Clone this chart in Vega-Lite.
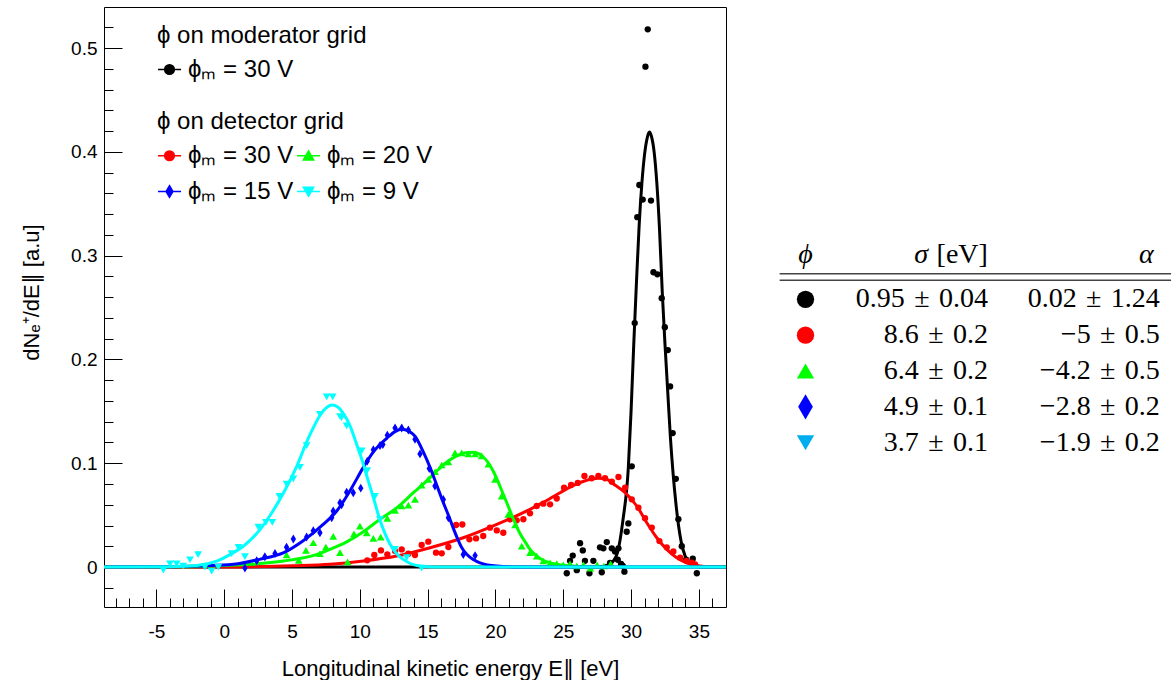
{
"$schema": "https://vega.github.io/schema/vega-lite/v6.json",
"background": "white",
"padding": {"left": 20, "top": 6, "right": 0, "bottom": 0},
"spacing": 45,
"config": {
  "font": "Liberation Sans",
  "view": {"stroke": "#000000", "strokeWidth": 1},
  "axis": {"grid": false, "domain": false, "labelColor": "#000000", "titleColor": "#000000", "tickColor": "#000000", "tickWidth": 1},
  "legend": {"labelColor": "#000000", "titleColor": "#000000", "titleLimit": 400, "labelLimit": 300}
},
"hconcat": [
{
  "width": 622, "height": 600,
  "resolve": {"axis": {"x": "independent", "y": "independent"}, "scale": {"fill": "independent", "stroke": "independent", "shape": "independent"}},
  "layer": [
    {"data": {"name": "black_pts"}, "mark": {"type": "point", "filled": true, "shape": "circle", "size": 40, "color": "#000000", "opacity": 1},
     "encoding": {
       "x": {"field": "e", "type": "quantitative", "scale": {"domain": [-8.86, 37.0], "nice": false, "zero": false},
             "axis": {"orient": "bottom", "values": [-5,0,5,10,15,20,25,30,35], "ticks": false, "domain": false, "labelFontSize": 19, "labelPadding": 15, "labelExpr": "datum.value < 0 ? '-' + (-datum.value) : datum.label", "title": "Longitudinal kinetic energy E∥ [eV]", "titleFontSize": 22, "titleFontWeight": "normal", "titlePadding": 17, "titleX": 346}},
       "y": {"field": "v", "type": "quantitative", "scale": {"domain": [-0.0385, 0.5395], "nice": false, "zero": false},
             "axis": {"orient": "left", "values": [0,0.1,0.2,0.3,0.4,0.5], "ticks": false, "domain": false, "labelFontSize": 19, "labelPadding": 7, "labelExpr": "datum.value == 0 ? '0' : format(datum.value, '.1f')", "title": "dNₑ⁺/dE∥ [a.u]", "titleFontSize": 22, "titleFontWeight": "normal", "titlePadding": 27, "titleY": 285}}
     }},
    {"data": {"name": "black_fit"}, "mark": {"type": "line", "color": "#000000", "strokeWidth": 3, "interpolate": "monotone"},
     "encoding": {
       "x": {"field": "e", "type": "quantitative", "scale": {"domain": [-8.86, 37.0], "nice": false, "zero": false},
             "axis": {"orient": "bottom", "values": [-5,0,5,10,15,20,25,30,35], "tickSize": -18, "labels": false, "domain": false, "title": null}},
       "y": {"field": "v", "type": "quantitative", "scale": {"domain": [-0.0385, 0.5395], "nice": false, "zero": false},
             "axis": {"orient": "left", "values": [0,0.1,0.2,0.3,0.4,0.5], "tickSize": -18, "labels": false, "domain": false, "title": null}}
     }},
    {"data": {"name": "red_fit"}, "mark": {"type": "line", "color": "#ff0000", "strokeWidth": 3, "interpolate": "monotone"},
     "encoding": {
       "x": {"field": "e", "type": "quantitative", "scale": {"domain": [-8.86, 37.0], "nice": false, "zero": false},
             "axis": {"orient": "bottom", "values": [-8,-7,-6,-5,-4,-3,-2,-1,0,1,2,3,4,5,6,7,8,9,10,11,12,13,14,15,16,17,18,19,20,21,22,23,24,25,26,27,28,29,30,31,32,33,34,35,36], "tickSize": -9, "labels": false, "domain": false, "title": null}},
       "y": {"field": "v", "type": "quantitative", "scale": {"domain": [-0.0385, 0.5395], "nice": false, "zero": false},
             "axis": {"orient": "left", "values": [-0.02,0,0.02,0.04,0.06,0.08,0.1,0.12,0.14,0.16,0.18,0.2,0.22,0.24,0.26,0.28,0.3,0.32,0.34,0.36,0.38,0.4,0.42,0.44,0.46,0.48,0.5,0.52], "tickSize": -9, "labels": false, "domain": false, "title": null}}
     }},
    {"data": {"name": "red_pts"}, "mark": {"type": "point", "filled": true, "shape": "circle", "size": 40, "color": "#ff0000", "opacity": 1},
     "encoding": {"x": {"field": "e", "type": "quantitative", "scale": {"domain": [-8.86, 37.0], "nice": false, "zero": false}, "axis": null},
                  "y": {"field": "v", "type": "quantitative", "scale": {"domain": [-0.0385, 0.5395], "nice": false, "zero": false}, "axis": null}}},
    {"data": {"name": "green_fit"}, "mark": {"type": "line", "color": "#00ff00", "strokeWidth": 3, "interpolate": "monotone"},
     "encoding": {"x": {"field": "e", "type": "quantitative", "scale": {"domain": [-8.86, 37.0], "nice": false, "zero": false}, "axis": null},
                  "y": {"field": "v", "type": "quantitative", "scale": {"domain": [-0.0385, 0.5395], "nice": false, "zero": false}, "axis": null}}},
    {"data": {"name": "green_pts"}, "mark": {"type": "point", "filled": true, "shape": "triangle-up", "size": 60, "color": "#00ff00", "opacity": 1},
     "encoding": {"x": {"field": "e", "type": "quantitative", "scale": {"domain": [-8.86, 37.0], "nice": false, "zero": false}, "axis": null},
                  "y": {"field": "v", "type": "quantitative", "scale": {"domain": [-0.0385, 0.5395], "nice": false, "zero": false}, "axis": null}}},
    {"data": {"name": "blue_fit"}, "mark": {"type": "line", "color": "#0000ff", "strokeWidth": 3, "interpolate": "monotone"},
     "encoding": {"x": {"field": "e", "type": "quantitative", "scale": {"domain": [-8.86, 37.0], "nice": false, "zero": false}, "axis": null},
                  "y": {"field": "v", "type": "quantitative", "scale": {"domain": [-0.0385, 0.5395], "nice": false, "zero": false}, "axis": null}}},
    {"data": {"name": "blue_pts"}, "mark": {"type": "point", "filled": true, "shape": "M0,-1L0.6,0L0,1L-0.6,0Z", "size": 80, "color": "#0000ff", "opacity": 1},
     "encoding": {"x": {"field": "e", "type": "quantitative", "scale": {"domain": [-8.86, 37.0], "nice": false, "zero": false}, "axis": null},
                  "y": {"field": "v", "type": "quantitative", "scale": {"domain": [-0.0385, 0.5395], "nice": false, "zero": false}, "axis": null}}},
    {"data": {"name": "cyan_fit"}, "mark": {"type": "line", "color": "#00ffff", "strokeWidth": 3, "interpolate": "monotone"},
     "encoding": {"x": {"field": "e", "type": "quantitative", "scale": {"domain": [-8.86, 37.0], "nice": false, "zero": false}, "axis": null},
                  "y": {"field": "v", "type": "quantitative", "scale": {"domain": [-0.0385, 0.5395], "nice": false, "zero": false}, "axis": null}}},
    {"data": {"name": "cyan_pts"}, "mark": {"type": "point", "filled": true, "shape": "triangle-down", "size": 60, "color": "#00ffff", "opacity": 1},
     "encoding": {"x": {"field": "e", "type": "quantitative", "scale": {"domain": [-8.86, 37.0], "nice": false, "zero": false}, "axis": null},
                  "y": {"field": "v", "type": "quantitative", "scale": {"domain": [-0.0385, 0.5395], "nice": false, "zero": false}, "axis": null}}},
    {"data": {"name": "leg_mod"}, "transform": [{"filter": "false"}],
     "mark": {"type": "point", "filled": true, "opacity": 1, "strokeWidth": 1.5},
     "encoding": {
       "fill": {"field": "lbl", "type": "nominal", "scale": {"domain": ["ϕₘ = 30 V"], "range": ["#000000"]},
                "legend": {"title": "ϕ on moderator grid", "orient": "none", "legendX": 53, "legendY": 17, "symbolSize": 529, "symbolStrokeWidth": 1.5, "labelFontSize": 24, "titleFontSize": 24, "titleFontWeight": "normal", "titlePadding": 9, "labelOffset": 6, "padding": 0, "rowPadding": 11}},
       "stroke": {"field": "lbl", "type": "nominal", "scale": {"domain": ["ϕₘ = 30 V"], "range": ["#000000"]},
                "legend": {"title": "ϕ on moderator grid", "orient": "none", "legendX": 53, "legendY": 17, "symbolSize": 529, "symbolStrokeWidth": 1.5, "labelFontSize": 24, "titleFontSize": 24, "titleFontWeight": "normal", "titlePadding": 9, "labelOffset": 6, "padding": 0, "rowPadding": 11}},
       "shape": {"field": "lbl", "type": "nominal", "scale": {"domain": ["ϕₘ = 30 V"], "range": ["M-1,0L1,0M-0.42,0A0.42,0.42,0,1,0,0.42,0A0.42,0.42,0,1,0,-0.42,0Z"]},
                "legend": {"title": "ϕ on moderator grid", "orient": "none", "legendX": 53, "legendY": 17, "symbolSize": 529, "symbolStrokeWidth": 1.5, "labelFontSize": 24, "titleFontSize": 24, "titleFontWeight": "normal", "titlePadding": 9, "labelOffset": 6, "padding": 0, "rowPadding": 11}}
     }},
    {"data": {"name": "leg_det"}, "transform": [{"filter": "false"}],
     "mark": {"type": "point", "filled": true, "opacity": 1, "strokeWidth": 1.5},
     "encoding": {
       "fill": {"field": "lbl", "type": "nominal", "scale": {"domain": ["ϕₘ = 30 V", "ϕₘ = 15 V", "ϕₘ = 20 V", "ϕₘ = 9 V"], "range": ["#ff0000", "#0000ff", "#00ff00", "#00ffff"]},
                "legend": {"title": "ϕ on detector grid", "orient": "none", "legendX": 53, "legendY": 103, "columns": 2, "columnPadding": 0, "symbolSize": 529, "symbolStrokeWidth": 1.5, "labelFontSize": 24, "titleFontSize": 24, "titleFontWeight": "normal", "titlePadding": 9, "labelOffset": 6, "padding": 0, "rowPadding": 11}},
       "stroke": {"field": "lbl", "type": "nominal", "scale": {"domain": ["ϕₘ = 30 V", "ϕₘ = 15 V", "ϕₘ = 20 V", "ϕₘ = 9 V"], "range": ["#ff0000", "#0000ff", "#00ff00", "#00ffff"]},
                "legend": {"title": "ϕ on detector grid", "orient": "none", "legendX": 53, "legendY": 103, "columns": 2, "columnPadding": 0, "symbolSize": 529, "symbolStrokeWidth": 1.5, "labelFontSize": 24, "titleFontSize": 24, "titleFontWeight": "normal", "titlePadding": 9, "labelOffset": 6, "padding": 0, "rowPadding": 11}},
       "shape": {"field": "lbl", "type": "nominal", "scale": {"domain": ["ϕₘ = 30 V", "ϕₘ = 15 V", "ϕₘ = 20 V", "ϕₘ = 9 V"], "range": ["M-1,0L1,0M-0.42,0A0.42,0.42,0,1,0,0.42,0A0.42,0.42,0,1,0,-0.42,0Z", "M-1,0L1,0M0,-0.5L0.3,0L0,0.5L-0.3,0Z", "M-1,0L1,0M0,-0.42L0.45,0.36L-0.45,0.36Z", "M-1,0L1,0M0,0.42L0.45,-0.36L-0.45,-0.36Z"]},
                "legend": {"title": "ϕ on detector grid", "orient": "none", "legendX": 53, "legendY": 103, "columns": 2, "columnPadding": 0, "symbolSize": 529, "symbolStrokeWidth": 1.5, "labelFontSize": 24, "titleFontSize": 24, "titleFontWeight": "normal", "titlePadding": 9, "labelOffset": 6, "padding": 0, "rowPadding": 11}}
     }}
  ]
},
{
  "width": 394, "height": 600,
  "view": {"stroke": null},
  "layer": [
    {"data": {"name": "tbl_hdr"}, "mark": {"type": "rule", "color": "#444444", "strokeWidth": 1.5},
     "encoding": {"x": {"datum": -0.146, "type": "quantitative", "scale": {"domain": [-0.1553, 2.0694], "nice": false, "zero": false}, "axis": null},
                  "x2": {"datum": 2.064},
                  "y": {"datum": 0.29, "type": "quantitative", "scale": {"domain": [-7.153, 9.583], "nice": false, "zero": false, "reverse": true}, "axis": null}}},
    {"data": {"name": "tbl_hdr"}, "mark": {"type": "rule", "color": "#444444", "strokeWidth": 1.5},
     "encoding": {"x": {"datum": -0.146, "type": "quantitative", "scale": {"domain": [-0.1553, 2.0694], "nice": false, "zero": false}, "axis": null},
                  "x2": {"datum": 2.064},
                  "y": {"datum": 0.47, "type": "quantitative", "scale": {"domain": [-7.153, 9.583], "nice": false, "zero": false, "reverse": true}, "axis": null}}},
    {"data": {"name": "tbl_hdr"}, "mark": {"type": "text", "font": "Liberation Serif", "fontSize": 28, "fontStyle": "italic", "align": "center", "baseline": "middle", "color": "#000000"},
     "encoding": {"text": {"field": "phi"},
                  "x": {"datum": 0, "type": "quantitative", "scale": {"domain": [-0.1553, 2.0694], "nice": false, "zero": false}, "axis": null},
                  "y": {"datum": -0.24, "type": "quantitative", "scale": {"domain": [-7.153, 9.583], "nice": false, "zero": false, "reverse": true}, "axis": null}}},
    {"data": {"name": "tbl_hdr"}, "mark": {"type": "text", "font": "Liberation Serif", "fontSize": 28, "fontStyle": "italic", "align": "right", "baseline": "middle", "color": "#000000"},
     "encoding": {"text": {"field": "sig"},
                  "x": {"datum": 0.692, "type": "quantitative", "scale": {"domain": [-0.1553, 2.0694], "nice": false, "zero": false}, "axis": null},
                  "y": {"datum": -0.24, "type": "quantitative", "scale": {"domain": [-7.153, 9.583], "nice": false, "zero": false, "reverse": true}, "axis": null}}},
    {"data": {"name": "tbl_hdr"}, "mark": {"type": "text", "font": "Liberation Serif", "fontSize": 28, "align": "right", "baseline": "middle", "color": "#000000"},
     "encoding": {"text": {"field": "unit"},
                  "x": {"datum": 1.03, "type": "quantitative", "scale": {"domain": [-0.1553, 2.0694], "nice": false, "zero": false}, "axis": null},
                  "y": {"datum": -0.24, "type": "quantitative", "scale": {"domain": [-7.153, 9.583], "nice": false, "zero": false, "reverse": true}, "axis": null}}},
    {"data": {"name": "tbl_hdr"}, "mark": {"type": "text", "font": "Liberation Serif", "fontSize": 28, "fontStyle": "italic", "align": "right", "baseline": "middle", "color": "#000000"},
     "encoding": {"text": {"field": "alp"},
                  "x": {"datum": 1.966, "type": "quantitative", "scale": {"domain": [-0.1553, 2.0694], "nice": false, "zero": false}, "axis": null},
                  "y": {"datum": -0.24, "type": "quantitative", "scale": {"domain": [-7.153, 9.583], "nice": false, "zero": false, "reverse": true}, "axis": null}}},
    {"data": {"name": "tbl"}, "mark": {"type": "point", "filled": true, "opacity": 1, "size": 300},
     "encoding": {"x": {"datum": 0, "type": "quantitative", "scale": {"domain": [-0.1553, 2.0694], "nice": false, "zero": false}, "axis": null},
                  "y": {"field": "row", "type": "quantitative", "scale": {"domain": [-7.153, 9.583], "nice": false, "zero": false, "reverse": true}, "axis": null},
                  "shape": {"field": "grp", "type": "nominal", "scale": {"domain": ["moderator 30 V", "detector 30 V", "detector 20 V", "detector 15 V", "detector 9 V"], "range": ["circle", "circle", "triangle-up", "M0,-1.45L0.85,0L0,1.45L-0.85,0Z", "triangle-down"]}, "legend": null},
                  "color": {"field": "grp", "type": "nominal", "scale": {"domain": ["moderator 30 V", "detector 30 V", "detector 20 V", "detector 15 V", "detector 9 V"], "range": ["#000000", "#ff0000", "#00ff00", "#0000ff", "#00aeef"]}, "legend": null}}},
    {"data": {"name": "tbl"}, "mark": {"type": "text", "font": "Liberation Serif", "fontSize": 28, "align": "right", "baseline": "middle", "color": "#000000"},
     "encoding": {"text": {"field": "sigma"},
                  "x": {"datum": 1.03, "type": "quantitative", "scale": {"domain": [-0.1553, 2.0694], "nice": false, "zero": false}, "axis": null},
                  "y": {"field": "row", "type": "quantitative", "scale": {"domain": [-7.153, 9.583], "nice": false, "zero": false, "reverse": true}, "axis": null}}},
    {"data": {"name": "tbl"}, "mark": {"type": "text", "font": "Liberation Serif", "fontSize": 28, "align": "right", "baseline": "middle", "color": "#000000"},
     "encoding": {"text": {"field": "alpha"},
                  "x": {"datum": 2.0, "type": "quantitative", "scale": {"domain": [-0.1553, 2.0694], "nice": false, "zero": false}, "axis": null},
                  "y": {"field": "row", "type": "quantitative", "scale": {"domain": [-7.153, 9.583], "nice": false, "zero": false, "reverse": true}, "axis": null}}}
  ]
}
],
"datasets": {
  "leg_mod": [{"lbl": "ϕₘ = 30 V"}],
  "leg_det": [{"lbl": "ϕₘ = 30 V"}, {"lbl": "ϕₘ = 20 V"}, {"lbl": "ϕₘ = 15 V"}, {"lbl": "ϕₘ = 9 V"}],
  "tbl_hdr": [{"phi": "ϕ", "sig": "σ", "unit": "[eV]", "alp": "α"}],
  "tbl": [
    {"row": 1, "grp": "moderator 30 V", "sigma": "0.95\u2004±\u20040.04", "alpha": "0.02\u2004±\u20041.24"},
    {"row": 2, "grp": "detector 30 V", "sigma": "8.6\u2004±\u20040.2", "alpha": "−5\u2004±\u20040.5"},
    {"row": 3, "grp": "detector 20 V", "sigma": "6.4\u2004±\u20040.2", "alpha": "−4.2\u2004±\u20040.5"},
    {"row": 4, "grp": "detector 15 V", "sigma": "4.9\u2004±\u20040.1", "alpha": "−2.8\u2004±\u20040.2"},
    {"row": 5, "grp": "detector 9 V", "sigma": "3.7\u2004±\u20040.1", "alpha": "−1.9\u2004±\u20040.2"}
  ],
  "black_pts": [
    {"e":25.26,"v":-0.006},{"e":25.5,"v":0.006},{"e":25.7,"v":0.011},{"e":26.0,"v":-0.003},{"e":26.24,"v":0.023},{"e":26.44,"v":0.016},{"e":26.6,"v":0.006},{"e":26.93,"v":-0.006},{"e":27.22,"v":0.006},{"e":27.71,"v":0.019},{"e":27.84,"v":-0.005},{"e":27.96,"v":0.018},{"e":28.21,"v":0.024},{"e":28.45,"v":0.004},{"e":28.58,"v":0.018},{"e":28.82,"v":0.015},{"e":29.02,"v":0.007},{"e":29.07,"v":0.018},{"e":29.26,"v":0.003},{"e":29.39,"v":0.001},{"e":29.51,"v":-0.0045},{"e":29.68,"v":0.034},{"e":29.8,"v":0.042},{"e":30.05,"v":0.097},{"e":30.27,"v":0.235},{"e":30.46,"v":0.337},{"e":30.61,"v":0.368},{"e":30.86,"v":0.354},{"e":31.06,"v":0.482},{"e":31.23,"v":0.518},{"e":31.47,"v":0.353},{"e":31.65,"v":0.284},{"e":31.94,"v":0.282},{"e":32.26,"v":0.259},{"e":32.49,"v":0.231},{"e":32.71,"v":0.209},{"e":32.88,"v":0.174},{"e":33.07,"v":0.129},{"e":33.3,"v":0.085},{"e":33.49,"v":0.046},{"e":33.74,"v":0.02},{"e":34.06,"v":0.007},{"e":34.55,"v":0.008},{"e":34.85,"v":-0.006}
  ],
  "black_fit": [
    {"e":-8.86,"v":0},{"e":27.5,"v":0},{"e":28.3,"v":0.002},{"e":28.7,"v":0.006},{"e":29.0,"v":0.014},{"e":29.4,"v":0.045},{"e":29.8,"v":0.096},{"e":30.0,"v":0.15},{"e":30.2,"v":0.215},{"e":30.4,"v":0.275},{"e":30.6,"v":0.33},{"e":30.8,"v":0.37},{"e":31.0,"v":0.398},{"e":31.2,"v":0.414},{"e":31.35,"v":0.419},{"e":31.5,"v":0.415},{"e":31.7,"v":0.4},{"e":31.9,"v":0.37},{"e":32.1,"v":0.325},{"e":32.3,"v":0.265},{"e":32.5,"v":0.215},{"e":32.7,"v":0.17},{"e":32.9,"v":0.125},{"e":33.1,"v":0.09},{"e":33.3,"v":0.062},{"e":33.5,"v":0.04},{"e":33.7,"v":0.024},{"e":34.0,"v":0.01},{"e":34.3,"v":0.004},{"e":34.7,"v":0.001},{"e":35.2,"v":0},{"e":37.0,"v":0}
  ],
  "red_pts": [
    {"e":10.55,"v":0.0065},{"e":11.07,"v":0.0116},{"e":11.56,"v":0.016},{"e":12.03,"v":0.0122},{"e":12.6,"v":0.0154},{"e":13.09,"v":0.017},{"e":13.58,"v":0.0128},{"e":14.07,"v":0.0116},{"e":14.56,"v":0.0212},{"e":15.05,"v":0.0244},{"e":15.62,"v":0.0138},{"e":16.04,"v":0.0132},{"e":16.53,"v":0.0193},{"e":17.1,"v":0.0405},{"e":17.56,"v":0.041},{"e":18.08,"v":0.0267},{"e":18.57,"v":0.0276},{"e":19.1,"v":0.0299},{"e":19.6,"v":0.0379},{"e":20.1,"v":0.0353},{"e":20.58,"v":0.033},{"e":21.08,"v":0.046},{"e":21.57,"v":0.045},{"e":22.06,"v":0.046},{"e":22.55,"v":0.0517},{"e":23.05,"v":0.0588},{"e":23.53,"v":0.061},{"e":24.03,"v":0.0604},{"e":24.52,"v":0.066},{"e":25.06,"v":0.0764},{"e":25.58,"v":0.079},{"e":26.07,"v":0.081},{"e":26.56,"v":0.0877},{"e":27.1,"v":0.0855},{"e":27.59,"v":0.0877},{"e":28.08,"v":0.0855},{"e":28.58,"v":0.0822},{"e":29.07,"v":0.0867},{"e":29.56,"v":0.0764},{"e":30.05,"v":0.0652},{"e":30.54,"v":0.0571},{"e":31.03,"v":0.047},{"e":31.53,"v":0.038},{"e":32.09,"v":0.025},{"e":32.63,"v":0.019},{"e":33.12,"v":0.015},{"e":33.62,"v":0.009},{"e":34.1,"v":0.0058},{"e":34.48,"v":0.0041},{"e":34.72,"v":0.0026}
  ],
  "red_fit": [
    {"e":-8.86,"v":0},{"e":0,"v":0.0001},{"e":3,"v":0.0005},{"e":5,"v":0.0012},{"e":7.8,"v":0.0026},{"e":10.26,"v":0.0058},{"e":12.72,"v":0.0106},{"e":15.18,"v":0.0186},{"e":17.63,"v":0.0282},{"e":20.1,"v":0.041},{"e":22.55,"v":0.0556},{"e":23.5,"v":0.062},{"e":24.76,"v":0.0716},{"e":26.0,"v":0.08},{"e":27.0,"v":0.0845},{"e":27.6,"v":0.0855},{"e":28.2,"v":0.0845},{"e":28.7,"v":0.08},{"e":29.56,"v":0.0716},{"e":30.42,"v":0.0588},{"e":31.16,"v":0.0427},{"e":31.9,"v":0.0282},{"e":32.63,"v":0.017},{"e":33.37,"v":0.009},{"e":34.1,"v":0.0041},{"e":34.85,"v":0.0015},{"e":35.5,"v":0.0003},{"e":37.0,"v":0}
  ],
  "green_pts": [
    {"e":4.6,"v":0.0116},{"e":5.5,"v":0.0065},{"e":6.03,"v":0.016},{"e":6.57,"v":0.0234},{"e":7.06,"v":0.0128},{"e":7.5,"v":0.0193},{"e":8.04,"v":0.0295},{"e":8.54,"v":0.0138},{"e":9.1,"v":0.005},{"e":9.57,"v":0.032},{"e":10.01,"v":0.0395},{"e":10.51,"v":0.033},{"e":11.0,"v":0.0276},{"e":11.54,"v":0.0289},{"e":12.03,"v":0.0469},{"e":12.6,"v":0.0546},{"e":13.09,"v":0.0588},{"e":13.58,"v":0.0597},{"e":14.07,"v":0.0652},{"e":14.56,"v":0.079},{"e":15.05,"v":0.0845},{"e":15.55,"v":0.0918},{"e":16.04,"v":0.0983},{"e":16.53,"v":0.1014},{"e":17.02,"v":0.11},{"e":17.51,"v":0.11},{"e":18.0,"v":0.109},{"e":18.5,"v":0.109},{"e":18.99,"v":0.107},{"e":19.48,"v":0.099},{"e":19.97,"v":0.0845},{"e":20.46,"v":0.0684},{"e":20.95,"v":0.0508},{"e":21.45,"v":0.0405},{"e":21.94,"v":0.0202},{"e":22.55,"v":0.0138},{"e":23.05,"v":0.0106},{"e":23.53,"v":0.0058},{"e":24.03,"v":0.0041},{"e":24.52,"v":0.0032},{"e":25.0,"v":0.002},{"e":25.5,"v":0.003},{"e":26.0,"v":0.001},{"e":26.5,"v":0.002},{"e":27.0,"v":-0.001},{"e":27.5,"v":0.002},{"e":28.0,"v":0.001},{"e":28.5,"v":0.003}
  ],
  "green_fit": [
    {"e":-8.86,"v":0},{"e":-3,"v":0.0003},{"e":0,"v":0.0015},{"e":1.9,"v":0.0026},{"e":4.4,"v":0.0058},{"e":6.8,"v":0.012},{"e":7.8,"v":0.017},{"e":9.0,"v":0.024},{"e":10.26,"v":0.034},{"e":11.49,"v":0.046},{"e":12.72,"v":0.057},{"e":13.95,"v":0.0716},{"e":14.93,"v":0.083},{"e":15.67,"v":0.0925},{"e":16.41,"v":0.101},{"e":17.15,"v":0.107},{"e":17.8,"v":0.11},{"e":18.37,"v":0.1105},{"e":18.8,"v":0.109},{"e":19.1,"v":0.106},{"e":19.5,"v":0.1},{"e":19.85,"v":0.092},{"e":20.2,"v":0.082},{"e":20.58,"v":0.07},{"e":20.9,"v":0.06},{"e":21.2,"v":0.05},{"e":21.5,"v":0.041},{"e":21.82,"v":0.032},{"e":22.2,"v":0.024},{"e":22.55,"v":0.017},{"e":23.0,"v":0.011},{"e":23.53,"v":0.0065},{"e":24.52,"v":0.0026},{"e":26.0,"v":0.0005},{"e":27.5,"v":0},{"e":37.0,"v":0}
  ],
  "blue_pts": [
    {"e":1.53,"v":-0.001},{"e":2.4,"v":0.006},{"e":3.0,"v":0.01},{"e":3.75,"v":0.013},{"e":4.6,"v":0.019},{"e":5.1,"v":0.027},{"e":6.08,"v":0.029},{"e":6.57,"v":0.035},{"e":7.06,"v":0.033},{"e":7.93,"v":0.0475},{"e":8.04,"v":0.054},{"e":8.54,"v":0.062},{"e":8.66,"v":0.06},{"e":9.03,"v":0.072},{"e":9.52,"v":0.0716},{"e":10.07,"v":0.076},{"e":10.55,"v":0.102},{"e":11.0,"v":0.113},{"e":11.49,"v":0.117},{"e":11.7,"v":0.118},{"e":12.03,"v":0.127},{"e":12.6,"v":0.134},{"e":13.09,"v":0.134},{"e":13.58,"v":0.132},{"e":14.07,"v":0.123},{"e":14.44,"v":0.109},{"e":15.12,"v":0.095},{"e":15.54,"v":0.078},{"e":16.16,"v":0.065},{"e":16.53,"v":0.0475},{"e":17.63,"v":0.012},{"e":18.5,"v":0.011}
  ],
  "blue_fit": [
    {"e":-8.86,"v":0},{"e":-4,"v":0.0002},{"e":-1.8,"v":0.001},{"e":0.7,"v":0.0026},{"e":2.6,"v":0.0074},{"e":4.4,"v":0.0138},{"e":5.8,"v":0.025},{"e":7.3,"v":0.041},{"e":8.3,"v":0.054},{"e":9.3,"v":0.074},{"e":10.26,"v":0.096},{"e":11.0,"v":0.111},{"e":11.98,"v":0.124},{"e":12.6,"v":0.1305},{"e":13.09,"v":0.1327},{"e":13.6,"v":0.131},{"e":14.07,"v":0.126},{"e":14.68,"v":0.111},{"e":15.18,"v":0.096},{"e":15.67,"v":0.079},{"e":16.1,"v":0.064},{"e":16.53,"v":0.05},{"e":17.15,"v":0.029},{"e":17.5,"v":0.019},{"e":17.88,"v":0.0122},{"e":18.4,"v":0.007},{"e":18.86,"v":0.0041},{"e":20.1,"v":0.001},{"e":22,"v":0},{"e":37.0,"v":0}
  ],
  "cyan_pts": [
    {"e":-4.48,"v":-0.003},{"e":-3.99,"v":0.003},{"e":-3.5,"v":0.003},{"e":-3.02,"v":0.001},{"e":-2.52,"v":0.007},{"e":-1.92,"v":0.012},{"e":-1.42,"v":0.0},{"e":-0.92,"v":-0.004},{"e":-0.43,"v":0.0},{"e":0.55,"v":0.013},{"e":1.05,"v":0.019},{"e":1.53,"v":0.01},{"e":2.52,"v":0.0385},{"e":3.08,"v":0.043},{"e":3.55,"v":0.043},{"e":4.07,"v":0.068},{"e":4.6,"v":0.08},{"e":5.1,"v":0.085},{"e":5.59,"v":0.096},{"e":6.08,"v":0.117},{"e":7.06,"v":0.147},{"e":7.56,"v":0.164},{"e":8.0,"v":0.164},{"e":8.54,"v":0.145},{"e":8.66,"v":0.144},{"e":9.03,"v":0.136},{"e":10.14,"v":0.112},{"e":10.55,"v":0.093},{"e":11.12,"v":0.068},{"e":11.49,"v":0.046},{"e":12.6,"v":0.017},{"e":13.46,"v":0.009},{"e":14.56,"v":-0.001}
  ],
  "cyan_fit": [
    {"e":-8.86,"v":0},{"e":-4,"v":0.0003},{"e":-2,"v":0.0015},{"e":-0.5,"v":0.006},{"e":0.43,"v":0.012},{"e":1.5,"v":0.021},{"e":2.64,"v":0.036},{"e":3.5,"v":0.052},{"e":4.36,"v":0.071},{"e":5.35,"v":0.097},{"e":6.1,"v":0.121},{"e":6.6,"v":0.135},{"e":7.06,"v":0.146},{"e":7.5,"v":0.153},{"e":7.95,"v":0.156},{"e":8.4,"v":0.154},{"e":8.78,"v":0.148},{"e":9.28,"v":0.136},{"e":9.8,"v":0.117},{"e":10.26,"v":0.099},{"e":10.6,"v":0.084},{"e":11.0,"v":0.067},{"e":11.49,"v":0.045},{"e":11.9,"v":0.031},{"e":12.23,"v":0.022},{"e":12.7,"v":0.013},{"e":13.2,"v":0.0074},{"e":14.4,"v":0.001},{"e":15.5,"v":0},{"e":37.0,"v":0}
  ]
}
}
